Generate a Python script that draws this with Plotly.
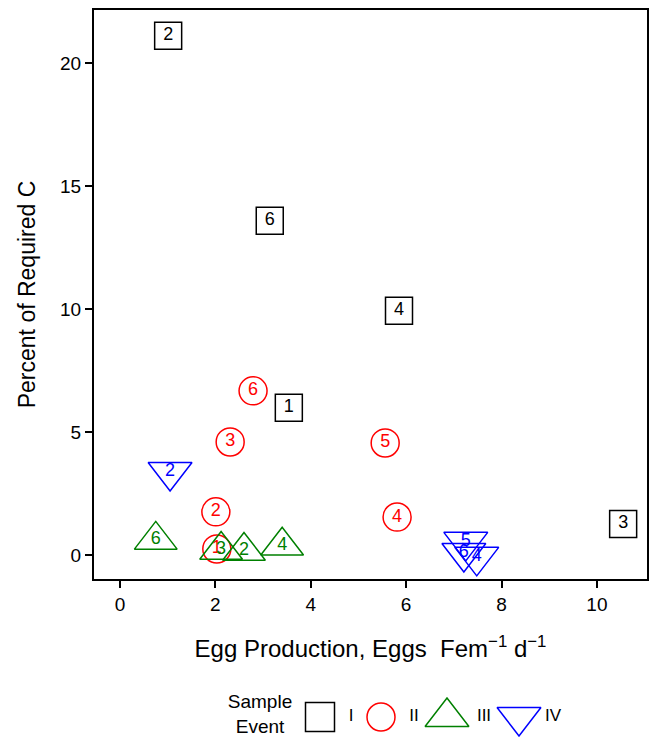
import plotly.graph_objects as go

# ---- data ----
event_names = ["I", "II", "III", "IV"]
event_colors = ["black", "red", "green", "blue"]
event_symbols = ["square-open", "circle-open", "triangle-up-open", "triangle-down-open"]
event_sizes = [27, 28, 37, 38]

I_labels = ["1", "2", "3", "4", "6"]
I_x = [3.54, 1.01, 10.55, 5.85, 3.14]
I_y = [5.98, 21.1, 1.26, 9.92, 13.58]

II_labels = ["1", "2", "3", "4", "5", "6"]
II_x = [2.03, 2.01, 2.31, 5.81, 5.56, 2.79]
II_y = [0.24, 1.75, 4.59, 1.54, 4.55, 6.67]

III_labels = ["2", "3", "4", "6"]
III_x = [2.60, 2.12, 3.40, 0.75]
III_y = [0.16, 0.20, 0.37, 0.61]

IV_labels = ["2", "5", "6", "4"]
IV_x = [1.05, 7.25, 7.21, 7.48]
IV_y = [3.37, 0.53, 0.08, -0.08]

x_ticks = [0, 2, 4, 6, 8, 10]
y_ticks = [0, 5, 10, 15, 20]

series = [
    (I_x, I_y, I_labels),
    (II_x, II_y, II_labels),
    (III_x, III_y, III_labels),
    (IV_x, IV_y, IV_labels),
]

FONT = "Liberation Sans, Arial, Helvetica, sans-serif"

fig = go.Figure()

for (xs, ys, labs), name, col, sym, sz in zip(series, event_names, event_colors,
                                              event_symbols, event_sizes):
    fig.add_trace(go.Scatter(
        x=xs, y=ys, text=labs, mode="markers+text", name=name,
        textposition="middle center",
        textfont=dict(family=FONT, size=18, color=col),
        marker=dict(symbol=sym, size=sz, color=col, line=dict(color=col, width=1.5)),
        cliponaxis=False, showlegend=False, xaxis="x", yaxis="y",
    ))

# ---- hand-drawn legend on a helper axis (pixel-like coordinates) ----
leg_marker_x = [320, 381, 447, 519]
leg_label_x = [351, 414, 484, 553]
leg_y = [20, 20, 20, 20]
for i, (name, col, sym) in enumerate(zip(event_names, event_colors, event_symbols)):
    fig.add_trace(go.Scatter(
        x=[leg_marker_x[i]], y=[leg_y[i]], mode="markers",
        marker=dict(symbol=sym, size=[29, 28, 38, 38][i], color=col,
                    line=dict(color=col, width=1.5)),
        cliponaxis=False, showlegend=False, hoverinfo="skip",
        xaxis="x2", yaxis="y2",
    ))
    fig.add_trace(go.Scatter(
        x=[leg_label_x[i]], y=[leg_y[i]], mode="text", text=[name],
        textposition="middle center",
        textfont=dict(family=FONT, size=17, color="black"),
        cliponaxis=False, showlegend=False, hoverinfo="skip",
        xaxis="x2", yaxis="y2",
    ))
fig.add_trace(go.Scatter(
    x=[260], y=[21], mode="text", text=["Sample<br>Event"],
    textposition="middle center",
    textfont=dict(family=FONT, size=19, color="black"),
    cliponaxis=False, showlegend=False, hoverinfo="skip",
    xaxis="x2", yaxis="y2",
))

axis_common = dict(
    showline=True, linecolor="black", linewidth=2, mirror=True,
    ticks="outside", ticklen=7, tickwidth=1.5, tickcolor="black",
    showgrid=False, zeroline=False,
    tickfont=dict(family=FONT, size=19, color="black"),
)

fig.update_layout(
    width=649, height=737,
    margin=dict(l=94, r=2, t=10, b=0),
    paper_bgcolor="white", plot_bgcolor="white",
    showlegend=False,
    xaxis=dict(range=[-0.545, 11.05], tickvals=x_ticks, anchor="y",
               title=dict(text="Egg Production, Eggs  Fem<sup>\u22121</sup> d<sup>\u22121</sup>",
                          font=dict(family=FONT, size=24, color="black"), standoff=26),
               **axis_common),
    yaxis=dict(range=[-0.98, 22.15], tickvals=y_ticks, domain=[158 / 727, 1], anchor="x",
               title=dict(text="Percent of Required C",
                          font=dict(family=FONT, size=23, color="black"), standoff=18),
               **axis_common),
    xaxis2=dict(range=[94, 647], domain=[0, 1], anchor="y2", visible=False, fixedrange=True),
    yaxis2=dict(range=[0, 47], domain=[0, 47 / 727], anchor="x2", visible=False, fixedrange=True),
)

fig.write_html("out.html", config={"displayModeBar": False},
               post_script="document.body.style.margin='0';")
